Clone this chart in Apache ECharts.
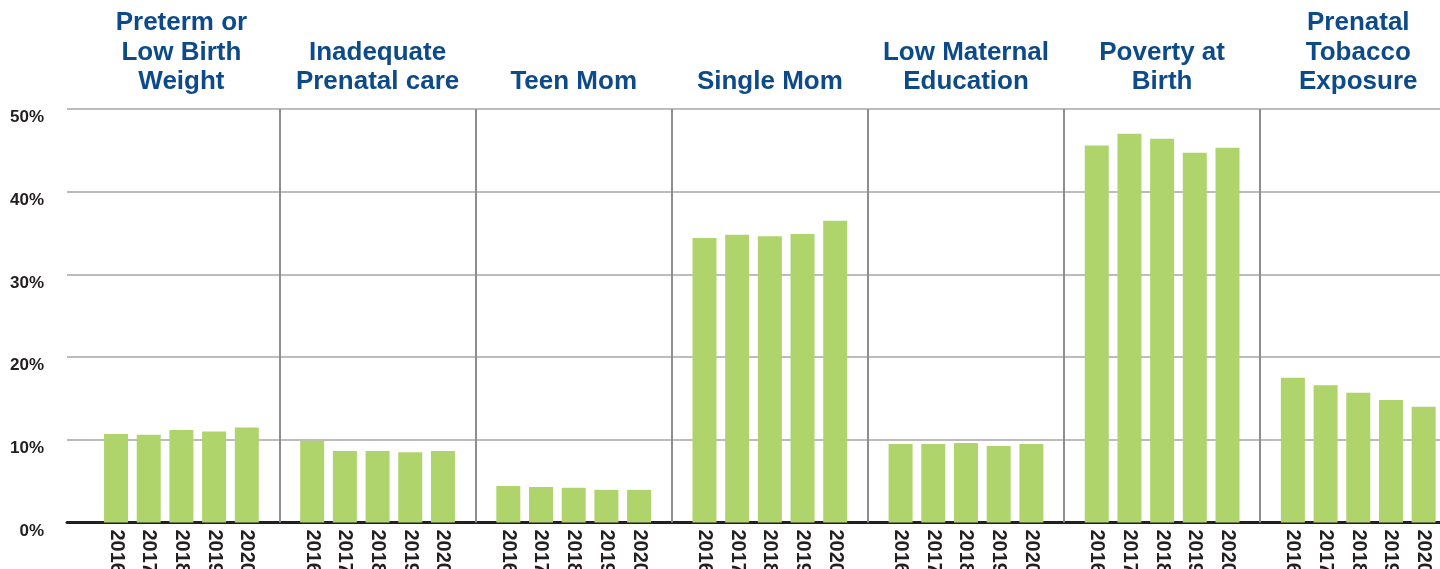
<!DOCTYPE html>
<html>
<head>
<meta charset="utf-8">
<script src="https://cdn.jsdelivr.net/npm/echarts@6/dist/echarts.min.js"></script>
<style>
html,body{margin:0;padding:0;background:#fff;}
#c{width:1440px;height:569px;}
</style>
</head>
<body>
<div id="c"></div>
<script>
// ---- data ----
var groups = ['Preterm or\nLow Birth\nWeight', 'Inadequate\nPrenatal care', 'Teen Mom', 'Single Mom', 'Low Maternal\nEducation', 'Poverty at\nBirth', 'Prenatal\nTobacco\nExposure'];
var years = ['2016', '2017', '2018', '2019', '2020'];
var preterm    = [10.7, 10.6, 11.2, 11.0, 11.5];
var inadequate = [9.9, 8.65, 8.65, 8.5, 8.65];
var teenMom    = [4.4, 4.3, 4.2, 3.95, 3.95];
var singleMom  = [34.4, 34.8, 34.6, 34.9, 36.5];
var lowEdu     = [9.5, 9.5, 9.6, 9.25, 9.5];
var poverty    = [45.6, 47.0, 46.4, 44.7, 45.3];
var tobacco    = [17.5, 16.6, 15.7, 14.8, 14.0];
var yTicks = [0, 10, 20, 30, 40, 50];

var seriesByGroup = [preterm, inadequate, teenMom, singleMom, lowEdu, poverty, tobacco];

// build 42 slots: one blank slot before each group of 5 years
var cats = [], topCats = [], values = [], separators = [];
seriesByGroup.forEach(function (vals, g) {
  cats.push(''); topCats.push(''); values.push(null);
  if (g > 0) separators.push({ xAxis: cats.length - 1 });
  years.forEach(function (y, i) {
    cats.push(y);
    topCats.push(i === 2 ? groups[g] : '');
    values.push(vals[i]);
  });
});

var FONT = '"Liberation Sans", Arial, Helvetica, sans-serif';
var chart = echarts.init(document.getElementById('c'), null, { renderer: 'canvas' });
chart.setOption({
  animation: false,
  backgroundColor: '#ffffff',
  grid: { left: 67, right: 0, top: 109, bottom: 46.5, containLabel: false, outerBoundsMode: 'none' },
  xAxis: [{
    type: 'category',
    data: cats,
    position: 'bottom',
    axisLine: { show: true, lineStyle: { color: '#231f20', width: 3 } },
    axisTick: { show: false },
    axisLabel: {
      interval: 0, rotate: -90, margin: 7, hideOverlap: false,
      fontFamily: FONT, fontSize: 20, fontWeight: 'bold', color: '#231f20'
    },
    splitLine: { show: false }
  }, {
    type: 'category',
    data: topCats,
    position: 'top',
    axisLine: { show: false },
    axisTick: { show: false },
    axisLabel: {
      interval: 0, margin: 12, hideOverlap: false,
      fontFamily: FONT, fontSize: 26, fontWeight: 'bold', color: '#0d4a8a',
      lineHeight: 29.5, align: 'center'
    },
    splitLine: { show: false }
  }],
  yAxis: {
    type: 'value',
    min: yTicks[0], max: yTicks[yTicks.length - 1], interval: 10,
    axisLine: { show: false },
    axisTick: { show: false },
    axisLabel: {
      formatter: '{value}%', margin: 23, verticalAlign: 'top',
      fontFamily: FONT, fontSize: 17, fontWeight: 'bold', color: '#231f20'
    },
    splitLine: { show: true, lineStyle: { color: '#bcbcbc', width: 2 } }
  },
  series: [{
    type: 'bar',
    data: values,
    barWidth: 24,
    xAxisIndex: 0,
    itemStyle: { color: '#b0d46c' },
    markLine: {
      silent: true,
      symbol: ['none', 'none'],
      label: { show: false },
      lineStyle: { color: '#8e8e8e', width: 2, type: 'solid' },
      data: separators
    }
  }, {
    type: 'bar', data: [], xAxisIndex: 1
  }]
});
</script>
</body>
</html>
